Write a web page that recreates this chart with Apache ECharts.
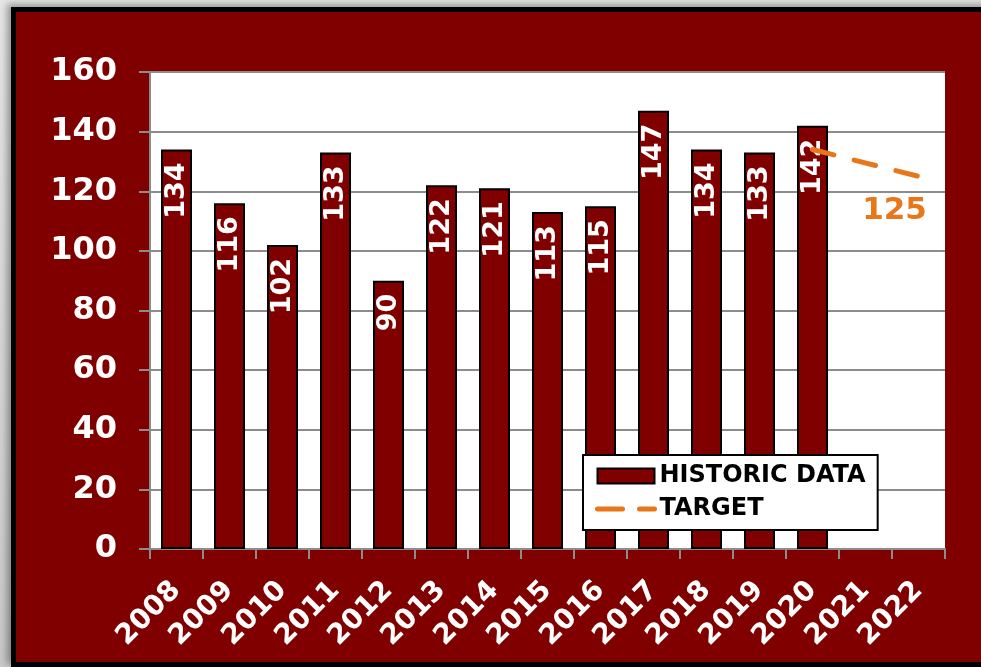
<!DOCTYPE html>
<html>
<head>
<meta charset="utf-8">
<script src="https://cdn.jsdelivr.net/npm/echarts@6/dist/echarts.min.js"></script>
<style>
  html, body { margin: 0; padding: 0; width: 981px; height: 667px; overflow: hidden;
    background: linear-gradient(#e6e6e6, #c8c8c8); }
  #frame { position: absolute; left: 11px; top: 7px; width: 990px; height: 650px;
    background: #800000; border: 5px solid #000; box-shadow: -4px -3px 7px rgba(0,0,0,0.35); }
  #chart { position: absolute; left: 0; top: 0; width: 981px; height: 667px; }
</style>
</head>
<body>
<div id="frame"></div>
<div id="chart"></div>
<script>
// years along the x axis
var years = ['2008', '2009', '2010', '2011', '2012', '2013', '2014', '2015',
  '2016', '2017', '2018', '2019', '2020', '2021', '2022'];
// historic data (bars)
var historic = [134, 116, 102, 133, 90, 122, 121, 113, 115, 147, 134, 133, 142, null, null];
// target line, 2020 -> 2022
var target = [null, null, null, null, null, null, null, null, null, null, null, null, 134, null, 125];
var yTicks = { min: 0, max: 160, interval: 20 };

var chart = echarts.init(document.getElementById('chart'));
var orange = '#E8761A';
var font = 'DejaVu Sans';

var targetData = target.map(function (v, i) {
  if (i === target.length - 1) {
    return {
      value: v,
      symbol: 'circle',
      symbolSize: 1,
      itemStyle: { color: 'transparent' },
      label: {
        show: true, position: 'bottom', distance: 19, offset: [-24, 0],
        color: orange, fontSize: 31, fontWeight: 'bold', fontFamily: font
      }
    };
  }
  return v;
});

var option = {
  backgroundColor: 'transparent',
  animation: false,
  grid: {
    left: 150, right: 36, top: 72, bottom: 118,
    show: true, backgroundColor: '#fff', borderWidth: 0
  },
  legend: {
    left: 583, top: 455, orient: 'vertical',
    backgroundColor: '#fff', borderColor: '#000', borderWidth: 2,
    padding: [9, 12, 9, 12], itemGap: 9,
    itemWidth: 57, itemHeight: 15,
    textStyle: { color: '#000', fontSize: 24, fontWeight: 'bold', fontFamily: font },
    data: [
      { name: 'HISTORIC DATA', icon: 'rect' },
      {
        name: 'TARGET',
        itemStyle: { color: 'transparent', borderWidth: 0 },
        lineStyle: { color: orange, width: 5, type: [25, 17], cap: 'round' }
      }
    ]
  },
  xAxis: {
    type: 'category',
    data: years,
    axisLine: { lineStyle: { color: '#8c8c8c', width: 2 } },
    axisTick: { show: true, length: 10, lineStyle: { color: '#8c8c8c', width: 2 } },
    axisLabel: {
      rotate: 45, margin: 37, color: '#fff', fontSize: 28, fontWeight: 'bold', fontFamily: font
    }
  },
  yAxis: {
    type: 'value',
    min: yTicks.min, max: yTicks.max, interval: yTicks.interval,
    axisLine: { show: true, lineStyle: { color: '#8c8c8c', width: 2 } },
    axisTick: { show: true, length: 11, lineStyle: { color: '#8c8c8c', width: 2 } },
    splitLine: { lineStyle: { color: '#8c8c8c', width: 2 } },
    axisLabel: { margin: 33, color: '#fff', fontSize: 32, fontWeight: 'bold', fontFamily: font }
  },
  series: [
    {
      name: 'HISTORIC DATA',
      type: 'bar',
      data: historic,
      barWidth: 31,
      itemStyle: { color: '#800000', borderColor: '#000', borderWidth: 2 },
      label: {
        show: true, position: 'insideTop', rotate: 90, align: 'right', verticalAlign: 'middle',
        distance: 13, color: '#fff', fontSize: 27, fontWeight: 'bold', fontFamily: font
      }
    },
    {
      name: 'TARGET',
      type: 'line',
      data: targetData,
      connectNulls: true,
      symbol: 'none',
      lineStyle: { color: orange, width: 5, type: [22, 21], cap: 'round' },
      itemStyle: { color: orange },
      z: 5
    }
  ]
};

chart.setOption(option);
</script>
</body>
</html>
